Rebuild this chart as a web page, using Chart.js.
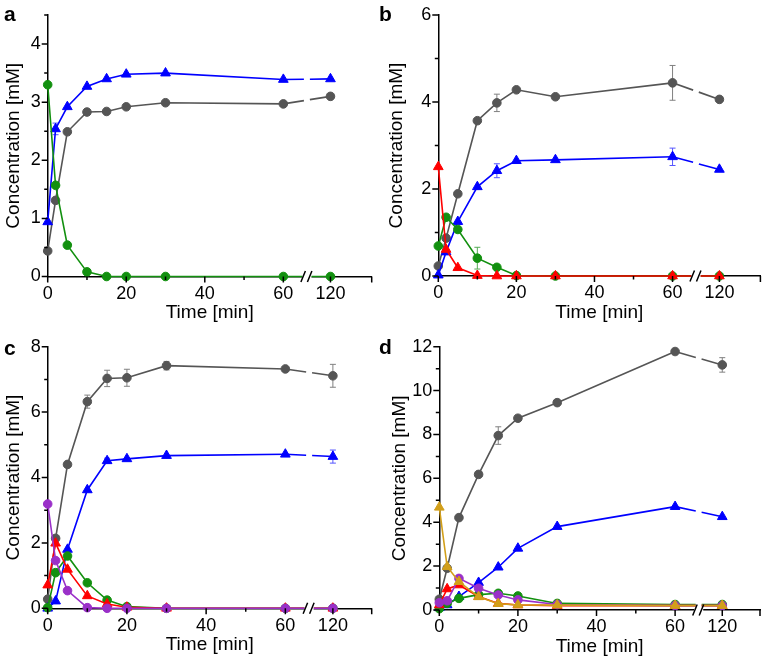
<!DOCTYPE html>
<html><head><meta charset="utf-8">
<script src="https://cdn.jsdelivr.net/npm/chart.js@4/dist/chart.umd.min.js"></script>
<style>
html,body{margin:0;padding:0;background:#fff;}
#wrap{position:relative;width:767px;height:659px;overflow:hidden;background:#fff;}
.panel{position:absolute;}
.lbl{position:absolute;font:bold 21px "Liberation Sans",Arial,sans-serif;color:#000;line-height:1;}
</style></head><body>
<div id="wrap">
  <div class="panel" style="left:0;top:0"><canvas id="ca" width="383" height="329"></canvas></div>
  <div class="panel" style="left:383px;top:0"><canvas id="cb" width="384" height="329"></canvas></div>
  <div class="panel" style="left:0;top:330px"><canvas id="cc" width="383" height="329"></canvas></div>
  <div class="panel" style="left:383px;top:330px"><canvas id="cd" width="384" height="329"></canvas></div>
  <div class="lbl" style="left:4px;top:3px">a</div>
  <div class="lbl" style="left:379px;top:3px">b</div>
  <div class="lbl" style="left:4px;top:337px">c</div>
  <div class="lbl" style="left:379px;top:336px">d</div>
</div>
<script>
// ---------- data ----------
const times = [0, 2, 5, 10, 15, 20, 30, 60, 120];
const xTickValues = [0, 20, 40, 60, 120];
const xTickLabels = ['0', '20', '40', '60', '120'];

const aGrey  = [0.44, 1.31, 2.49, 2.83, 2.84, 2.92, 2.99, 2.97, 3.10];
const aBlue  = [0.94, 2.54, 2.92, 3.27, 3.40, 3.48, 3.50, 3.39, 3.40];
const aGreen = [3.30, 1.57, 0.54, 0.08, 0, 0, 0, 0, 0];
const aBlueErr = [0, 0.10, 0, 0, 0, 0, 0, 0, 0];

const bGrey  = [0.23, 0.87, 1.89, 3.57, 3.98, 4.28, 4.12, 4.44, 4.06];
const bBlue  = [0.02, 0.55, 1.25, 2.05, 2.42, 2.65, 2.67, 2.74, 2.45];
const bGreen = [0.69, 1.35, 1.07, 0.41, 0.20, 0.01, 0, 0, 0];
const bRed   = [2.51, 0.61, 0.19, 0.01, 0, 0, 0, 0, 0];
const bGreyErr  = [0, 0, 0, 0, 0.20, 0, 0, 0.40, 0];
const bBlueErr  = [0, 0, 0, 0, 0.16, 0, 0, 0.20, 0];
const bGreenErr = [0, 0, 0, 0.25, 0, 0, 0, 0, 0];

const cGrey   = [0.28, 2.14, 4.40, 6.32, 7.03, 7.05, 7.42, 7.32, 7.11];
const cBlue   = [0, 0.22, 1.80, 3.62, 4.51, 4.57, 4.67, 4.71, 4.64];
const cGreen  = [0.02, 1.09, 1.60, 0.78, 0.25, 0.05, 0, 0, 0];
const cRed    = [0.71, 1.99, 1.19, 0.38, 0.13, 0.03, 0, 0, 0];
const cPurple = [3.19, 1.46, 0.54, 0.02, 0, 0, 0, 0, 0];
const cGreyErr = [0, 0, 0.08, 0.20, 0.25, 0.26, 0.13, 0, 0.35];
const cBlueErr = [0, 0, 0, 0, 0.08, 0, 0, 0, 0.20];

const dGrey   = [0.49, 1.90, 4.21, 6.18, 7.95, 8.74, 9.45, 11.78, 11.17];
const dBlue   = [0.10, 0.23, 0.61, 1.25, 1.95, 2.81, 3.80, 4.71, 4.25];
const dGreen  = [0.06, 0.30, 0.53, 0.70, 0.76, 0.64, 0.30, 0.25, 0.25];
const dRed    = [0.23, 0.96, 1.14, 0.61, 0.30, 0.23, 0.20, 0.20, 0.20];
const dPurple = [0.33, 0.42, 1.44, 0.99, 0.68, 0.46, 0.25, 0.20, 0.20];
const dGold   = [4.68, 1.97, 1.29, 0.60, 0.29, 0.23, 0.22, 0.20, 0.20];
const dGreyErr = [0, 0, 0, 0, 0.40, 0, 0, 0, 0.33];

// ---------- broken time axis: 120 min is drawn just after the break ----------
const BREAK_FROM = 60, BREAK_MARK = 66, AFTER_POS = 72, AFTER_T = 120;
function axisPos(t) { return t <= BREAK_FROM ? t : AFTER_POS + (t - AFTER_T); }

const COL = {
  grey: '#555555', blue: '#0000ff', green: '#12900f', red: '#ff0000',
  purple: '#9a30c8', gold: '#d29f1a'
};
const ERRCOL = { grey: '#808080', blue: '#5555ff', green: '#55aa55' };
const FONT = '"Liberation Sans", Arial, sans-serif';

function series(vals, colorKey, shape, err) {
  const isTri = shape === 'triangle';
  return {
    data: times.map((t, i) => ({ x: axisPos(t), y: vals[i] })),
    err: err || null,
    errColor: ERRCOL[colorKey] || COL[colorKey],
    borderColor: COL[colorKey],
    backgroundColor: COL[colorKey],
    pointBackgroundColor: COL[colorKey],
    pointBorderColor: COL[colorKey],
    pointStyle: shape,
    pointRadius: isTri ? 5.6 : 4.3,
    pointBorderWidth: 1,
    pointHoverRadius: isTri ? 5.6 : 4.3,
    borderWidth: 1.6,
    tension: 0,
    fill: false,
    clip: false,
    segment: {
      borderDash: ctx => {
        if (ctx.p1DataIndex !== times.length - 1) return undefined;
        const xs = ctx.chart.scales.x;
        const bx = xs.getPixelForValue(BREAK_MARK);
        const dx = ctx.p1.x - ctx.p0.x, dy = ctx.p1.y - ctx.p0.y;
        const L = Math.hypot(dx, dy);
        const f = (bx - ctx.p0.x) / dx;
        const g = 6;
        return [Math.max(f * L - g / 2, 1), g, L];
      }
    }
  };
}

const decor = {
  id: 'decor',
  beforeDatasetsDraw(chart) {
    const ctx = chart.ctx, xs = chart.scales.x, ys = chart.scales.y;
    chart.data.datasets.forEach(ds => {
      if (!ds.err) return;
      ctx.save();
      ctx.strokeStyle = ds.errColor; ctx.lineWidth = 1;
      ds.data.forEach((p, i) => {
        const e = ds.err[i]; if (!e) return;
        const x = xs.getPixelForValue(p.x);
        const y1 = ys.getPixelForValue(p.y + e), y2 = ys.getPixelForValue(p.y - e);
        ctx.beginPath();
        ctx.moveTo(x, y1); ctx.lineTo(x, y2);
        ctx.moveTo(x - 3, y1); ctx.lineTo(x + 3, y1);
        ctx.moveTo(x - 3, y2); ctx.lineTo(x + 3, y2);
        ctx.stroke();
      });
      ctx.restore();
    });
  },
  afterDraw(chart) {
    const o = chart.options.plugins.decor;
    const ctx = chart.ctx, xs = chart.scales.x, ys = chart.scales.y;
    const ax = chart.chartArea.left, ay = chart.chartArea.bottom;
    ctx.save();
    ctx.strokeStyle = '#000'; ctx.lineWidth = 1.5;
    ctx.beginPath();
    o.yMajor.forEach(v => { const y = ys.getPixelForValue(v); ctx.moveTo(ax - 6, y); ctx.lineTo(ax, y); });
    o.yMinor.forEach(v => { const y = ys.getPixelForValue(v); ctx.moveTo(ax - 3.5, y); ctx.lineTo(ax, y); });
    const xMaj = xTickValues.map(axisPos).concat([xs.max]);
    xMaj.forEach(v => { const x = xs.getPixelForValue(v); ctx.moveTo(x, ay); ctx.lineTo(x, ay + 6); });
    [10, 30, 50].forEach(v => { const x = xs.getPixelForValue(v); ctx.moveTo(x, ay); ctx.lineTo(x, ay + 3.5); });
    ctx.stroke();
    // axis break mark
    const bx = xs.getPixelForValue(BREAK_MARK);
    ctx.fillStyle = '#fff';
    ctx.fillRect(bx - 4.5, ay - 3, 9, 6);
    ctx.lineWidth = 1.5;
    ctx.beginPath();
    ctx.moveTo(bx - 6, ay + 5.5); ctx.lineTo(bx - 1.5, ay - 5.5);
    ctx.moveTo(bx + 0.5, ay + 5.5); ctx.lineTo(bx + 5, ay - 5.5);
    ctx.stroke();
    ctx.restore();
  }
};

function makeChart(id, datasets, g) {
  const yMajor = [], yMinor = [];
  for (let v = 0; v <= g.yMax + 1e-9; v += g.step) yMajor.push(+v.toFixed(4));
  for (let v = g.step / 2; v <= g.yMax + 1e-9; v += g.step) yMinor.push(+v.toFixed(4));
  return new Chart(document.getElementById(id), {
    type: 'line',
    data: { datasets },
    plugins: [decor],
    options: {
      responsive: false,
      animation: false,
      events: [],
      layout: { padding: { top: g.top, right: g.right, left: 0, bottom: 0 } },
      plugins: {
        legend: { display: false }, tooltip: { enabled: false },
        decor: { yMajor, yMinor }
      },
      scales: {
        x: {
          type: 'linear', min: 0, max: g.xMax,
          grid: { display: false, drawTicks: false },
          border: { display: true, color: '#000', width: 1.5 },
          afterBuildTicks: s => { s.ticks = xTickValues.map(t => ({ value: axisPos(t) })); },
          afterFit: s => { s.height = g.xH; s.paddingLeft = 0; s.paddingRight = 0; },
          ticks: {
            autoSkip: false, maxRotation: 0, padding: 6.5, color: '#000',
            font: { family: FONT, size: 18 },
            callback: v => { const i = xTickValues.map(axisPos).indexOf(v); return i >= 0 ? xTickLabels[i] : ''; }
          },
          title: {
            display: true, text: 'Time [min]', color: '#000',
            font: { family: FONT, size: 19 }, padding: { top: 0, bottom: g.xTitlePad }
          }
        },
        y: {
          type: 'linear', min: 0, max: g.yMax,
          grid: { display: false, drawTicks: false },
          border: { display: true, color: '#000', width: 1.5 },
          afterBuildTicks: s => { s.ticks = yMajor.map(v => ({ value: v })); },
          afterFit: s => { s.width = g.yW; s.paddingTop = 0; s.paddingBottom = 0; },
          ticks: {
            padding: 7, color: '#000', font: { family: FONT, size: 18 },
            callback: v => String(v)
          },
          title: {
            display: true, text: 'Concentration [mM]', color: '#000',
            font: { family: FONT, size: 19 }, padding: { top: g.yTitlePad, bottom: 0 }
          }
        }
      }
    }
  });
}

makeChart('ca', [
  series(aGreen, 'green', 'circle'),
  series(aBlue, 'blue', 'triangle', aBlueErr),
  series(aGrey, 'grey', 'circle')
], { yMax: 4.5, step: 1, top: 15, right: 11.3, yW: 47.7, xH: 52.5, xMax: 82.5, xTitlePad: 4.65, yTitlePad: 2.65 });

makeChart('cb', [
  series(bRed, 'red', 'triangle'),
  series(bGreen, 'green', 'circle', bGreenErr),
  series(bBlue, 'blue', 'triangle', bBlueErr),
  series(bGrey, 'grey', 'circle', bGreyErr)
], { yMax: 6, step: 2, top: 15, right: 3.7, yW: 55.3, xH: 53, xMax: 82.5, xTitlePad: 5.15, yTitlePad: 2.25 });

makeChart('cc', [
  series(cPurple, 'purple', 'circle'),
  series(cRed, 'red', 'triangle'),
  series(cGreen, 'green', 'circle'),
  series(cBlue, 'blue', 'triangle', cBlueErr),
  series(cGrey, 'grey', 'circle', cGreyErr)
], { yMax: 8, step: 2, top: 16.7, right: 11.3, yW: 47.7, xH: 50.7, xMax: 81.8, xTitlePad: 2.85, yTitlePad: 2.65 });

makeChart('cd', [
  series(dGold, 'gold', 'triangle'),
  series(dPurple, 'purple', 'circle'),
  series(dRed, 'red', 'triangle'),
  series(dGreen, 'green', 'circle'),
  series(dBlue, 'blue', 'triangle'),
  series(dGrey, 'grey', 'circle', dGreyErr)
], { yMax: 12, step: 2, top: 16.7, right: 7, yW: 56.3, xH: 49, xMax: 81.6, xTitlePad: 1.15, yTitlePad: 5.65 });
</script>
</body></html>
